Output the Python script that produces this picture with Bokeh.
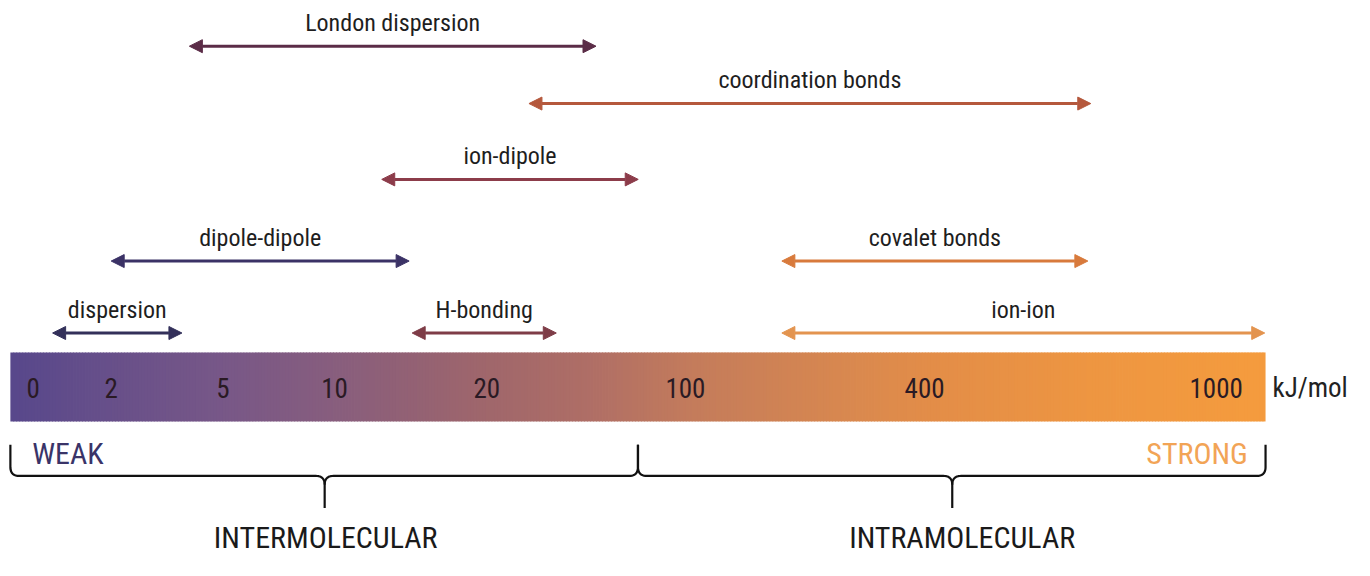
import numpy as np
from bokeh.plotting import figure
from bokeh.models import Range1d, Arrow, NormalHead, ColumnDataSource
from bokeh.core.properties import value
from bokeh.embed import file_html
from bokeh.resources import INLINE

# ---------------- data ----------------
tick_labels = ["0", "2", "5", "10", "20", "100", "400", "1000"]
tick_values = [0, 2, 5, 10, 20, 100, 400, 1000]
unit_label = "kJ/mol"

interaction_names = ["London dispersion", "coordination bonds", "ion-dipole",
                     "dipole-dipole", "covalet bonds", "dispersion",
                     "H-bonding", "ion-ion"]
energy_low = [4.1, 37, 13.1, 2.0, 221, 0.5, 15.1, 221]      # kJ/mol
energy_high = [64, 742, 81, 14.9, 736, 3.9, 48, 1100]       # kJ/mol
interaction_row = [0, 1, 2, 3, 3, 4, 4, 4]

strength_labels = ["WEAK", "STRONG"]
group_labels = ["INTERMOLECULAR", "INTRAMOLECULAR"]

# ---------------- layout / style ----------------
FONT = "Roboto Condensed"
TICK_X = [33, 112, 225, 338, 492, 693, 935, 1230]   # piecewise scale anchors
ROW_Y = [47, 106, 184, 268, 342]
BAR_X0, BAR_X1, BAR_Y0, BAR_Y1 = 10, 1280, 362, 433
ARROW_COLORS = ["#5b2c47", "#b5583c", "#8c3c4a", "#3b3266", "#d87a3c",
                "#33305a", "#7e3c47", "#e3944f"]
GRAD_STOPS = [(10, (88, 72, 140)), (112, (104, 80, 138)), (225, (120, 88, 136)),
              (338, (136, 94, 126)), (420, (148, 98, 116)), (492, (160, 103, 108)),
              (600, (176, 111, 102)), (700, (196, 124, 92)), (850, (216, 136, 80)),
              (950, (228, 142, 72)), (1100, (238, 150, 66)), (1280, (245, 156, 62))]


def scale(v):
    """Piecewise linear kJ/mol -> screen x, extrapolating past the last tick."""
    v = np.asarray(v, dtype=float)
    x = np.interp(v, tick_values, TICK_X)
    slope = (TICK_X[-1] - TICK_X[-2]) / (tick_values[-1] - tick_values[-2])
    return np.where(v > tick_values[-1], TICK_X[-1] + (v - tick_values[-1]) * slope, x)


p = figure(width=1354, height=560, output_backend="svg", toolbar_location=None,
           x_range=Range1d(0, 1370), y_range=Range1d(576, 0), min_border=0)
p.axis.visible = False
p.grid.visible = False
p.outline_line_color = None
p.background_fill_color = "white"

# ---- gradient bar ----
N = 420
edges = np.linspace(BAR_X0, BAR_X1, N + 1)
mids = (edges[:-1] + edges[1:]) / 2
sx = [s[0] for s in GRAD_STOPS]
cols = []
for m in mids:
    r = np.interp(m, sx, [s[1][0] for s in GRAD_STOPS])
    g = np.interp(m, sx, [s[1][1] for s in GRAD_STOPS])
    b = np.interp(m, sx, [s[1][2] for s in GRAD_STOPS])
    cols.append("#%02x%02x%02x" % (int(r), int(g), int(b)))
rights = np.minimum(edges[1:] + 0.8, BAR_X1)
p.quad(left=edges[:-1], right=rights, top=BAR_Y0, bottom=BAR_Y1,
       fill_color=cols, line_color=None)

# ---- tick labels ----
p.text(x=scale(tick_values), y=[399] * len(tick_values), text=tick_labels,
       text_font=value(FONT), text_font_size="27px", text_color="#2a1a24",
       text_align="center", text_baseline="middle")
p.text(x=[1287], y=[399], text=[unit_label], text_font=value(FONT),
       text_font_size="27px", text_color="#222222", text_align="left",
       text_baseline="middle")

# ---- arrows ----
xs0 = scale(energy_low)
xs1 = scale(energy_high)
for i, name in enumerate(interaction_names):
    y = ROW_Y[interaction_row[i]]
    c = ARROW_COLORS[i]
    p.add_layout(Arrow(x_start=float(xs0[i]), y_start=y, x_end=float(xs1[i]), y_end=y,
                       line_color=c, line_width=3,
                       start=NormalHead(size=13, fill_color=c, line_color=c, line_width=1),
                       end=NormalHead(size=13, fill_color=c, line_color=c, line_width=1)))
src = ColumnDataSource(dict(x=(xs0 + xs1) / 2,
                            y=[ROW_Y[r] - 24 for r in interaction_row],
                            t=interaction_names))
p.text(x="x", y="y", text="t", source=src, text_font=value(FONT),
       text_font_size="24px", text_color="#1e1e1e", text_align="center",
       text_baseline="middle")

# ---- strength labels ----
p.text(x=[32], y=[466], text=[strength_labels[0]], text_font=value(FONT),
       text_font_size="30px", text_color="#3a3468", text_align="left",
       text_baseline="middle")
p.text(x=[1262], y=[466], text=[strength_labels[1]], text_font=value(FONT),
       text_font_size="30px", text_color="#f2a456", text_align="right",
       text_baseline="middle")


# ---- braces ----
def qcurve(p0, c, p1, n=12):
    t = np.linspace(0, 1, n)[:, None]
    p0, c, p1 = map(np.array, (p0, c, p1))
    return (1 - t) ** 2 * p0 + 2 * (1 - t) * t * c + t ** 2 * p1


LINE_Y, TOP_Y, BOT_Y, R = 489, 457, 522, 9
split_x = float(scale(100)) - 48
cusps = [328, 963]
segs = []
segs.append(np.vstack([np.array([[BAR_X0, TOP_Y]]),
                       qcurve((BAR_X0, LINE_Y - R), (BAR_X0, LINE_Y), (BAR_X0 + R, LINE_Y)),
                       qcurve((cusps[0] - R, LINE_Y), (cusps[0], LINE_Y), (cusps[0], LINE_Y + R)),
                       np.array([[cusps[0], BOT_Y]])]))
segs.append(np.vstack([qcurve((cusps[0], LINE_Y + R), (cusps[0], LINE_Y), (cusps[0] + R, LINE_Y)),
                       qcurve((split_x - R, LINE_Y), (split_x, LINE_Y), (split_x, LINE_Y - R)),
                       np.array([[split_x, TOP_Y]])]))
segs.append(np.vstack([np.array([[split_x, TOP_Y]]),
                       qcurve((split_x, LINE_Y - R), (split_x, LINE_Y), (split_x + R, LINE_Y)),
                       qcurve((cusps[1] - R, LINE_Y), (cusps[1], LINE_Y), (cusps[1], LINE_Y + R)),
                       np.array([[cusps[1], BOT_Y]])]))
segs.append(np.vstack([qcurve((cusps[1], LINE_Y + R), (cusps[1], LINE_Y), (cusps[1] + R, LINE_Y)),
                       qcurve((BAR_X1 - R, LINE_Y), (BAR_X1, LINE_Y), (BAR_X1, LINE_Y - R)),
                       np.array([[BAR_X1, TOP_Y]])]))
p.multi_line(xs=[list(s[:, 0]) for s in segs], ys=[list(s[:, 1]) for s in segs],
             line_color="#111111", line_width=2.2)

p.text(x=[cusps[0] + 1, cusps[1] + 10], y=[552, 552], text=group_labels,
       text_font=value(FONT), text_font_size="30px", text_color="#1a1a1a",
       text_align="center", text_baseline="middle")

open("out.html", "w").write(file_html(p, INLINE))
